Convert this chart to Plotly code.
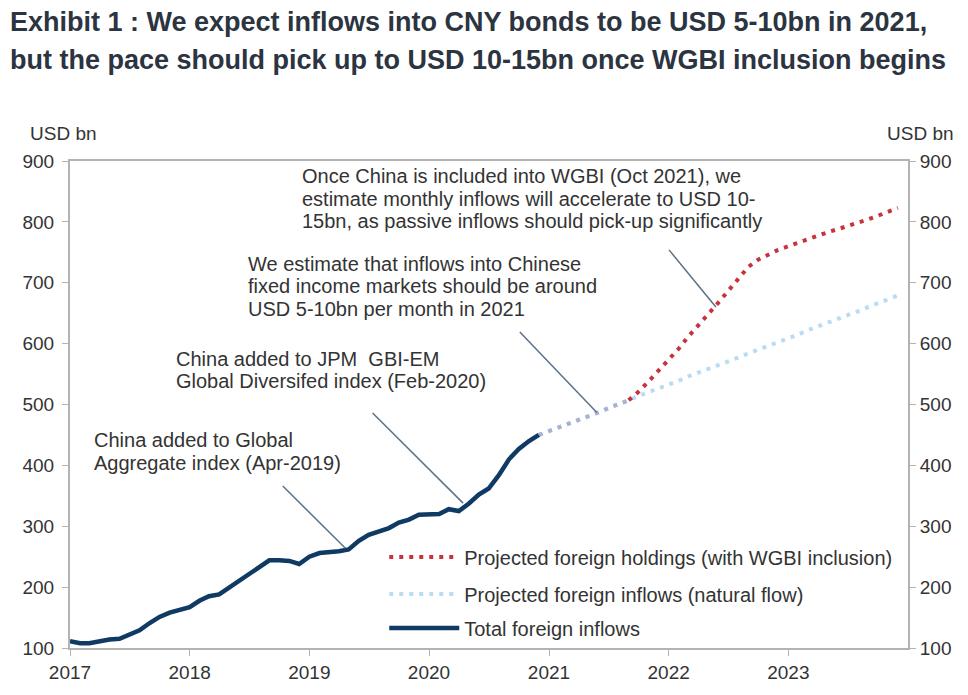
import plotly.graph_objects as go
import pandas as pd

# monthly stock of foreign holdings of CNY bonds, USD bn
hist_months = pd.date_range("2017-01-01", periods=48, freq="MS")
total_inflows = [111, 108, 108, 112, 114, 115, 122, 129, 141, 151, 158, 162,
                 167, 178, 185, 188, 199, 210, 223, 234, 244, 244, 243, 238,
                 250, 256, 257, 259, 262, 276, 286, 292, 297, 306, 311, 319,
                 319, 320, 328, 325, 337, 352, 362, 384, 410, 427, 440, 450]

proj_months = pd.date_range("2020-12-01", periods=37, freq="MS")
natural_flow = [450, 456, 463, 469, 475, 481, 487, 494, 500, 507, 514, 520,
                526, 533, 539, 546, 552, 558, 565, 571, 577, 584, 590, 596,
                603, 609, 615, 622, 628, 634, 641, 647, 653, 660, 666, 672, 679]

# WGBI path splits off the natural flow in Sep 2021
wgbi_months = proj_months[9:]
wgbi_holdings = [507, 521, 538, 556, 573, 592, 611, 629, 648, 667, 687, 706,
                 726, 738, 747, 754, 760, 766, 772, 777, 783, 788, 793, 798,
                 804, 810, 816, 823]

year_ticks = ["2017-01-01", "2018-01-01", "2019-01-01", "2020-01-01",
              "2021-01-01", "2022-01-01", "2023-01-01"]
year_labels = ["2017", "2018", "2019", "2020", "2021", "2022", "2023"]

notes = [
    ["China added to Global", "Aggregate index (Apr-2019)"],
    ["China added to JPM  GBI-EM", "Global Diversifed index (Feb-2020)"],
    ["We estimate that inflows into Chinese", "fixed income markets should be around",
     "USD 5-10bn per month in 2021"],
    ["Once China is included into WGBI (Oct 2021), we",
     "estimate monthly inflows will accelerate to USD 10-",
     "15bn, as passive inflows should pick-up significantly"],
]
# left edge (paper x) and first-line centre (paper y) of each note
note_pos = [(0.026, 0.427), (0.124, 0.594), (0.210, 0.789), (0.274, 0.969)]
line_gap = 0.0465
leaders = [
    ("2018-10-12", 366, "2019-04-21", 264),
    ("2019-07-13", 486, "2020-04-14", 338),
    ("2020-10-04", 619, "2021-05-27", 487),
    ("2022-01-02", 754, "2022-05-25", 660),
]

RED = "#c8323c"
LBLUE = "#b9dcf3"
NAVY = "#0f3a64"
TXT = "#333333"
AXC = "#b3b3b3"
font = "Liberation Sans, Arial, sans-serif"

fig = go.Figure()
fig.add_trace(go.Scatter(x=proj_months, y=natural_flow, mode="lines",
                         name="Projected foreign inflows (natural flow)",
                         line=dict(color=LBLUE, width=4, dash="4px,6px"),
                         legend="legend2"))
fig.add_trace(go.Scatter(x=proj_months[:10], y=natural_flow[:10], mode="lines",
                         showlegend=False,
                         line=dict(color="#aab2d2", width=4, dash="4px,6px")))
fig.add_trace(go.Scatter(x=wgbi_months, y=wgbi_holdings, mode="lines",
                         name="Projected foreign holdings (with WGBI inclusion)",
                         line=dict(color=RED, width=4, dash="4px,6px"),
                         legend="legend"))
fig.add_trace(go.Scatter(x=hist_months, y=total_inflows, mode="lines",
                         name="Total foreign inflows",
                         line=dict(color=NAVY, width=4.5),
                         legend="legend3"))
# invisible helper so the right-hand axis is drawn
fig.add_trace(go.Scatter(x=hist_months[:1], y=total_inflows[:1], yaxis="y2",
                         mode="markers", marker=dict(opacity=0),
                         showlegend=False, hoverinfo="skip"))

for x0, y0, x1, y1 in leaders:
    fig.add_shape(type="line", xref="x", yref="y", x0=x0, y0=y0, x1=x1, y1=y1,
                  line=dict(color="#5b7186", width=1.5))

for lines, (px, py) in zip(notes, note_pos):
    for i, txt in enumerate(lines):
        fig.add_annotation(text=txt, xref="paper", yref="paper", x=px,
                           y=py - i * line_gap, xanchor="left", yanchor="middle",
                           showarrow=False, font=dict(size=20, color=TXT, family=font))

fig.add_annotation(text="USD bn", xref="paper", yref="paper", x=-0.05, y=1.057,
                   xanchor="left", yanchor="middle", showarrow=False,
                   font=dict(size=19, color=TXT, family=font))
fig.add_annotation(text="USD bn", xref="paper", yref="paper", x=0.973, y=1.057,
                   xanchor="left", yanchor="middle", showarrow=False,
                   font=dict(size=19, color=TXT, family=font))

title_font = dict(size=27, color="#2b3440", family="Liberation Sans, Arial, sans-serif")
fig.add_annotation(text="<b>Exhibit 1 : We expect inflows into CNY bonds to be USD 5-10bn in 2021,</b>",
                   xref="paper", yref="paper", x=-0.074, y=1.285, xanchor="left",
                   yanchor="middle", showarrow=False, font=title_font)
fig.add_annotation(text="<b>but the pace should pick up to USD 10-15bn once WGBI inclusion begins</b>",
                   xref="paper", yref="paper", x=-0.074, y=1.207, xanchor="left",
                   yanchor="middle", showarrow=False, font=title_font)

leg = dict(xanchor="left", yanchor="middle", bgcolor="rgba(0,0,0,0)",
           font=dict(size=20, color=TXT, family=font), itemwidth=70)
fig.update_layout(
    width=968, height=695,
    margin=dict(l=62, r=68, t=153, b=55),
    paper_bgcolor="white", plot_bgcolor="white",
    font=dict(family=font, size=19, color=TXT),
    legend=dict(x=0.375, y=0.187, **leg),
    legend2=dict(x=0.375, y=0.111, **leg),
    legend3=dict(x=0.375, y=0.041, **leg),
    xaxis=dict(range=["2017-01-01", "2024-01-01"], tickvals=year_ticks,
               ticktext=year_labels, showgrid=False, showline=True,
               linecolor=AXC, linewidth=2, mirror=True, ticks="outside",
               ticklen=6, tickcolor=AXC, tickfont=dict(size=19, color=TXT)),
    yaxis=dict(range=[100, 900], dtick=100, showgrid=False, showline=True,
               linecolor=AXC, linewidth=2, ticks="outside", ticklen=6,
               tickcolor=AXC, tickfont=dict(size=19, color=TXT), zeroline=False,
               ticklabelstandoff=4),
    yaxis2=dict(range=[100, 900], dtick=100, overlaying="y", side="right",
                showgrid=False, showline=True, linecolor=AXC, linewidth=2,
                ticks="outside", ticklen=6, tickcolor=AXC,
                tickfont=dict(size=19, color=TXT), zeroline=False),
)

fig.write_html("out.html")
